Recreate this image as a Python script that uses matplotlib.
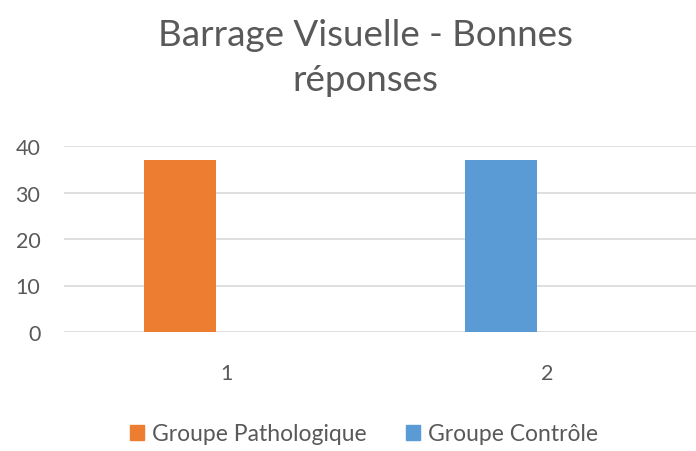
import matplotlib.pyplot as plt
from matplotlib.patches import Patch

# data
categories = ["1", "2"]
groups = ["Groupe Pathologique", "Groupe Contrôle"]
scores = [37, 37]
colors = ["#ED7D31", "#5B9BD5"]
yticks = [0, 10, 20, 30, 40]

TEXT = "#595959"
GRID = "#D9D9D9"

plt.rcParams["font.family"] = ["Lato", "DejaVu Sans"]

fig = plt.figure(figsize=(6.96, 4.52), dpi=100)
ax = fig.add_axes([64 / 696, 1 - 333 / 452, 1 - 64 / 696, (333 - 147) / 452])

x = list(range(len(categories)))
offset = -0.143
width = 0.224
ax.bar([i + offset for i in x], scores, width=width, color=colors, zorder=3)

ax.set_xlim(-0.505, 1.464)
ax.set_ylim(0, 40)
ax.set_yticks(yticks)
ax.set_xticks(x)
ax.set_xticklabels(categories)
ax.grid(axis="y", color=GRID, linewidth=1.2, zorder=0)
ax.set_axisbelow(True)
for s in ax.spines.values():
    s.set_visible(False)
ax.tick_params(axis="both", length=0, colors=TEXT, labelsize=15.5)
ax.tick_params(axis="y", pad=17)
ax.tick_params(axis="x", pad=22)

fig.text(365 / 696, 1 - 58 / 452, "Barrage Visuelle - Bonnes\nréponses",
         ha="center", va="center", fontsize=26.5, color=TEXT, linespacing=1.47)

handles = [Patch(color=c) for c in colors]
fig.legend(handles, groups, loc="center", bbox_to_anchor=(364 / 696, 1 - 435 / 452),
           ncol=2, frameon=False, fontsize=16.5, labelcolor=TEXT,
           handlelength=0.6, handleheight=0.6, handletextpad=0.35, columnspacing=1.7)

fig.savefig("out.png", dpi=100)
